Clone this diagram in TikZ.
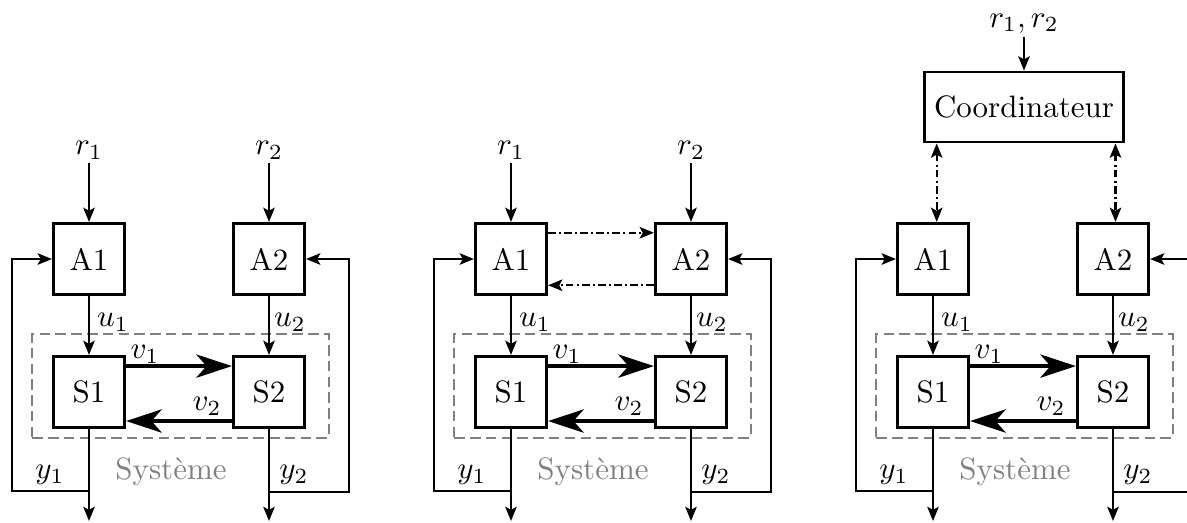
\documentclass[tikz,border=0pt]{standalone}
\usetikzlibrary{arrows.meta}
\tikzset{
  blk/.style={draw, line width=0.85pt, minimum size=23.1pt, inner sep=0pt},
  coordbox/.style={draw, line width=0.85pt, minimum width=64.4pt, minimum height=22.7pt, inner sep=0pt},
  thintip/.tip={Stealth[length=4.6pt,width=3.7pt,inset=1pt]},
  arr/.style={line width=0.75pt, -thintip},
  varr/.style={line width=1.35pt, -{Stealth[length=11.5pt,width=7.5pt,inset=3.3pt]}},
  ddarr/.style={line width=0.75pt, dash pattern=on 2.4pt off 1.1pt on 0.6pt off 1.1pt},
  ddtip/.style={-thintip},
  ddboth/.style={thintip-thintip},
  sysbox/.style={draw=gray, line width=0.75pt, dash pattern=on 3.4pt off 1.7pt, minimum width=95.8pt, minimum height=33.5pt, inner sep=0pt},
  lbl/.style={inner sep=0pt},
  rlbl/.style={inner sep=1pt, anchor=south},
  systxt/.style={inner sep=0pt, text=gray},
}
\newcommand\basepanel{%
  \node[blk] (A1) at (89,259) {A1};
  \node[blk] (A2) at (269,259) {A2};
  \node[blk] (S1) at (89,392) {S1};
  \node[blk] (S2) at (269,392) {S2};
  \node[sysbox] (sys) at (180.5,386) {};
  \node[systxt] (systxt) at (171,472) {Système};
  \draw[arr] (A1) -- (S1);
  \draw[arr] (A2) -- (S2);
  \node[lbl] (u1) at (113,322) {$u_1$};
  \node[lbl] (u2) at (290,322) {$u_2$};
  \draw[varr] ([yshift=-3.6pt]S1.north east) -- ([yshift=-3.6pt]S2.north west);
  \draw[varr] ([yshift=2.6pt]S2.south west) -- ([yshift=2.6pt]S1.south east);
  \node[lbl] (v1) at (145,354) {$v_1$};
  \node[lbl] (v2) at (207,406) {$v_2$};
  \coordinate (o1) at (89,521);
  \coordinate (o2) at (269,521);
  \draw[arr] (S1) -- (o1);
  \draw[arr] (S2) -- (o2);
  \coordinate (b1) at (89,491);
  \coordinate (fl) at (12,491);
  \coordinate (b2) at (269,492);
  \coordinate (fr) at (349,492);
  \draw[arr] (b1) -- (fl) |- (A1.west);
  \draw[arr] (b2) -- (fr) |- (A2.east);
  \node[lbl] (y1) at (50,475) {$y_1$};
  \node[lbl] (y2) at (294,475) {$y_2$};
}
\begin{document}
\begin{tikzpicture}[x=0.323pt, y=-0.323pt]
  \useasboundingbox (0,0) rectangle (1187,522);
  % panel 1
  \begin{scope}[name prefix=p-]
    \basepanel
    \node[rlbl] (r1) at (89,163) {$r_1$};
    \node[rlbl] (r2) at (269,163) {$r_2$};
    \draw[arr] (r1) -- (A1);
    \draw[arr] (r2) -- (A2);
  \end{scope}
  % panel 2
  \begin{scope}[shift={(422,0)}, name prefix=q-]
    \basepanel
    \node[rlbl] (r1) at (89,163) {$r_1$};
    \node[rlbl] (r2) at (269,163) {$r_2$};
    \draw[arr] (r1) -- (A1);
    \draw[arr] (r2) -- (A2);
    \draw[ddarr, ddtip] ([yshift=-3.5pt]A1.north east) -- ([yshift=-3.5pt]A2.north west);
    \draw[ddarr, ddtip] ([yshift=3.5pt]A2.south west) -- ([yshift=3.5pt]A1.south east);
  \end{scope}
  % panel 3
  \begin{scope}[shift={(844,0)}, name prefix=c-]
    \basepanel
    \node[coordbox] (C) at (180,107) {Coordinateur};
    \node[rlbl] (r12) at (180,37) {$r_1,r_2$};
    \draw[arr] (r12) -- (C);
    \draw[ddarr, ddboth] ([xshift=1.2pt]A1.north |- C.south) -- ([xshift=1.2pt]A1.north);
    \draw[ddarr, ddboth] ([xshift=0.8pt]A2.north |- C.south) -- ([xshift=0.8pt]A2.north);
  \end{scope}
\end{tikzpicture}
\end{document}
